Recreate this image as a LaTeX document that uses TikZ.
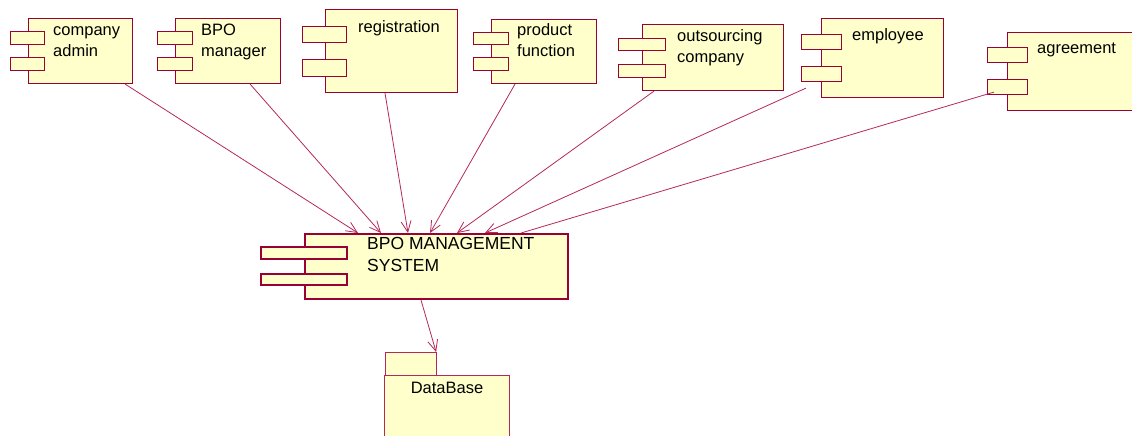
\documentclass[tikz,border=0pt]{standalone}
\usepackage{fontspec}
\setmainfont{Liberation Sans}
\usetikzlibrary{arrows.meta}
\definecolor{compfill}{RGB}{255,255,204}
\definecolor{compline}{RGB}{153,0,51}
\definecolor{depline}{RGB}{180,40,90}
\begin{document}
\begin{tikzpicture}[x=1pt, y=-1pt,
  comp/.style={draw=compline, fill=compfill, line width=1.1pt, inner sep=0pt, anchor=north west},
  bigcomp/.style={comp, line width=2pt},
  tab/.style={comp},
  lbl/.style={inner sep=0pt, anchor=base west, align=left, font=\fontsize{16.5}{21}\selectfont},
  dep/.style={draw=depline, line width=0.8pt, -{Straight Barb[length=11pt,width=10pt]}}]
\useasboundingbox (0,0) rectangle (1132,436);
% top row of components (labels sit on their last baseline)
\node[comp, minimum width=104, minimum height=65] (admin) at (28,18) {};
\node[tab, minimum width=34, minimum height=13] (admin-t1) at (10,31) {};
\node[tab, minimum width=34, minimum height=13] (admin-t2) at (10,57) {};
\node[lbl] (admin-l) at (53,57) {company\\admin};
\node[comp, minimum width=105, minimum height=65] (mgr) at (175,18) {};
\node[tab, minimum width=35, minimum height=13] (mgr-t1) at (157,31) {};
\node[tab, minimum width=35, minimum height=13] (mgr-t2) at (157,57) {};
\node[lbl] (mgr-l) at (201,57) {BPO\\manager};
\node[comp, minimum width=132, minimum height=83] (reg) at (325,9) {};
\node[tab, minimum width=44, minimum height=16] (reg-t1) at (302,26) {};
\node[tab, minimum width=44, minimum height=17] (reg-t2) at (302,59) {};
\node[lbl] (reg-l) at (358,33) {registration};
\node[comp, minimum width=105, minimum height=64] (prod) at (491,19) {};
\node[tab, minimum width=35, minimum height=12] (prod-t1) at (473,32) {};
\node[tab, minimum width=35, minimum height=13] (prod-t2) at (473,57) {};
\node[lbl] (prod-l) at (517,57) {product\\function};
\node[comp, minimum width=141, minimum height=66] (outs) at (642,24) {};
\node[tab, minimum width=47, minimum height=12] (outs-t1) at (618,38) {};
\node[tab, minimum width=47, minimum height=13] (outs-t2) at (618,64) {};
\node[lbl] (outs-l) at (677,63) {outsourcing\\company};
\node[comp, minimum width=122, minimum height=79] (emp) at (821,18) {};
\node[tab, minimum width=40, minimum height=15] (emp-t1) at (801,34) {};
\node[tab, minimum width=40, minimum height=15] (emp-t2) at (801,66) {};
\node[lbl] (emp-l) at (852,41) {employee};
\node[comp, minimum width=170, minimum height=78] (agr) at (1007,32) {};
\node[tab, minimum width=40, minimum height=15] (agr-t1) at (987,47) {};
\node[tab, minimum width=40, minimum height=15] (agr-t2) at (987,79) {};
\node[lbl] (agr-l) at (1037,54) {agreement};
% main system
\node[bigcomp, minimum width=263, minimum height=65] (bpo) at (304,233) {};
\node[bigcomp, minimum width=86, minimum height=12] (bpo-t1) at (260,246) {};
\node[bigcomp, minimum width=86, minimum height=11] (bpo-t2) at (260,273) {};
\node[lbl, font=\fontsize{17.5}{22}\selectfont] (bpo-l) at (367,271) {BPO MANAGEMENT\\SYSTEM};
% database package
\node[comp, draw=depline, minimum width=51, minimum height=23] (db-tab) at (385,352) {};
\node[comp, draw=depline, minimum width=125, minimum height=70] (db) at (384,375) {};
\node[lbl, anchor=base] (db-l) at (447,393) {DataBase};
% dependencies
\draw[dep] ([xshift=-8]admin.south east) -- ([xshift=-78.5]bpo.north);
\draw[dep] ([xshift=-31]mgr.south east) -- ([xshift=-55.5]bpo.north);
\draw[dep] ([xshift=60]reg.south west) -- ([xshift=-28.5]bpo.north);
\draw[dep] ([xshift=24]prod.south west) -- ([xshift=-6.5]bpo.north);
\draw[dep] ([xshift=12]outs.south west) -- ([xshift=20.5]bpo.north);
\draw[dep] ([xshift=-15,yshift=10]emp.south west) -- ([xshift=48.5]bpo.north);
\draw[dep, -] ([xshift=7,yshift=3]agr-t2.south west) -- ([xshift=84.5]bpo.north);
\draw[dep] ([xshift=-15.5]bpo.south) -- ([xshift=-1]db-tab.north east);
\end{tikzpicture}
\end{document}
